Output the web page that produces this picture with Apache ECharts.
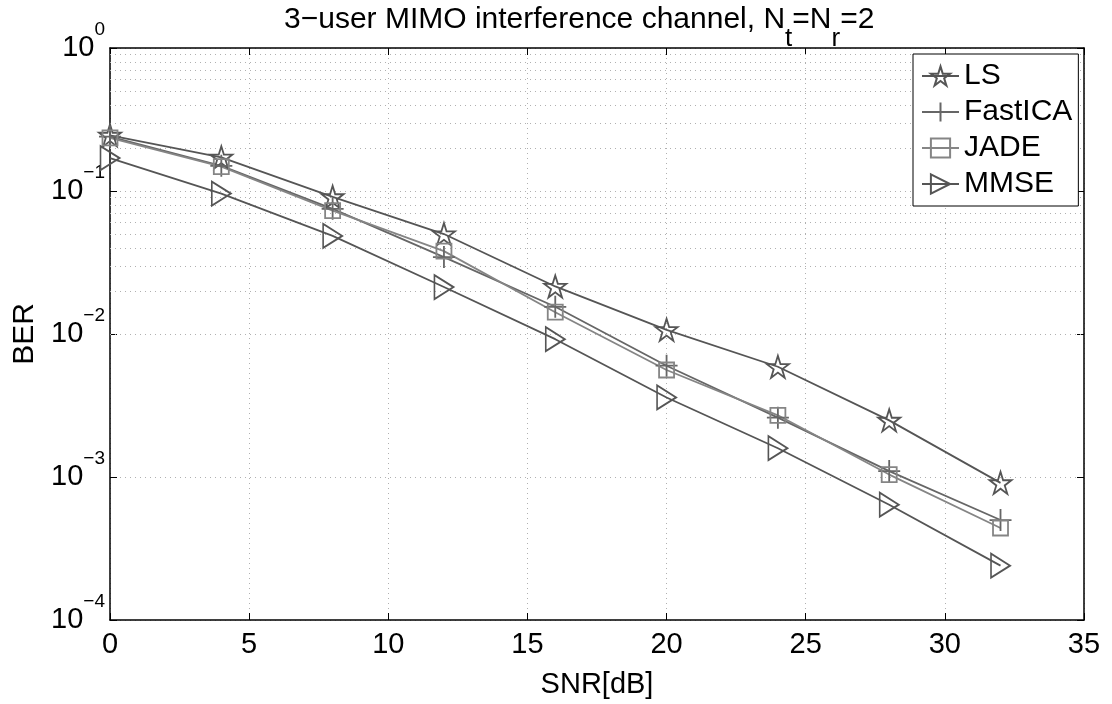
<!DOCTYPE html>
<html><head><meta charset="utf-8">
<script src="https://cdn.jsdelivr.net/npm/echarts@6/dist/echarts.min.js"></script>
<style>html,body{margin:0;padding:0;background:#fff}#c{width:1112px;height:704px}</style>
</head><body><div id="c"></div>
<script>
const snr = [0, 4, 8, 12, 16, 20, 24, 28, 32];
const berLS      = [0.245, 0.172, 0.091, 0.050, 0.0215, 0.0107, 0.0059, 0.00249, 0.00091];
const berFastICA = [0.240, 0.150, 0.075, 0.0345, 0.0155, 0.0060, 0.0026, 0.00110, 0.00050];
const berJADE    = [0.235, 0.148, 0.073, 0.0380, 0.0142, 0.0056, 0.0027, 0.00104, 0.00044];
const berMMSE    = [0.170, 0.096, 0.0485, 0.0213, 0.0092, 0.0036, 0.00159, 0.00064, 0.00024];
const seriesNames = ['LS', 'FastICA', 'JADE', 'MMSE'];
const xTicks = [0, 5, 10, 15, 20, 25, 30, 35];
const yDecades = [-4, -3, -2, -1, 0];

const FONT = 'Liberation Sans, Arial, sans-serif';
const starPath = 'path://M0,-1L0.2245,-0.309L0.951,-0.309L0.3633,0.118L0.5878,0.809L0,0.382L-0.5878,0.809L-0.3633,0.118L-0.951,-0.309L-0.2245,-0.309Z';
const plusPath = 'path://M0,-1L0,1M-1,0L1,0';
const triPath = 'path://M0,0L1,0.5L0,1Z';

const minorLines = [];
for (const d of yDecades.slice(0, -1)) {
  for (let m = 2; m <= 9; m++) minorLines.push({ yAxis: m * Math.pow(10, d) });
}

function mk(name, data, color, symbol, size, lw) {
  return {
    name, type: 'line', data: snr.map((x, i) => [x, data[i]]),
    symbol, symbolSize: size, showSymbol: true,
    lineStyle: { color, width: lw },
    itemStyle: { color: 'rgba(0,0,0,0)', borderColor: color, borderWidth: 1.8 },
    emphasis: { disabled: true }, z: 5
  };
}
const series = [
  mk('LS', berLS, '#555555', starPath, 22, 1.8),
  mk('FastICA', berFastICA, '#666666', plusPath, 22, 1.8),
  mk('JADE', berJADE, '#858585', 'rect', 15, 1.8),
  mk('MMSE', berMMSE, '#555555', triPath, [19, 24], 1.8)
];
series[3].markLine = {
  silent: true, symbol: ['none', 'none'], label: { show: false }, animation: false,
  lineStyle: { color: '#b0b0b0', type: [1, 4], width: 1 },
  emphasis: { disabled: true },
  data: minorLines
};

const supFmt = v => {
  const e = Math.round(Math.log10(v));
  return '{b|10}{s|' + (e < 0 ? '\u2212' + (-e) : e) + '}';
};

const chart = echarts.init(document.getElementById('c'), null, { renderer: 'canvas' });
chart.setOption({
  animation: false,
  backgroundColor: '#fff',
  title: {
    text: '{a|3\u2212user MIMO interference channel, N}{s|t}{a|=N}{s|r}{a|=2}',
    left: 279, top: 0,
    textStyle: {
      fontWeight: 'normal',
      rich: {
        a: { fontFamily: FONT, fontSize: 30, fontWeight: 'normal', color: '#000', verticalAlign: 'top', padding: [0, 0, 17, 0] },
        s: { fontFamily: FONT, fontSize: 26, fontWeight: 'normal', color: '#000', verticalAlign: 'bottom' }
      }
    }
  },
  legend: {
    data: seriesNames, orient: 'vertical', left: 913, top: 54,
    backgroundColor: '#fff', borderColor: '#000', borderWidth: 1,
    padding: [7, 6, 7, 8], itemGap: 6, itemWidth: 37, itemHeight: 24,
    textStyle: { fontFamily: FONT, fontSize: 30, color: '#000', lineHeight: 30 },
    z: 10
  },
  grid: { left: 110, top: 48, right: 28, bottom: 77, containLabel: false },
  xAxis: [{
    type: 'value', min: 0, max: 35, interval: 5,
    name: 'SNR[dB]', nameLocation: 'middle', nameGap: 50,
    nameTextStyle: { fontFamily: FONT, fontSize: 29, color: '#000' },
    axisLine: { show: true, onZero: false, lineStyle: { color: '#000', width: 1.5 } },
    axisTick: { show: true, inside: true, length: 7, lineStyle: { color: '#000' } },
    axisLabel: { fontFamily: FONT, fontSize: 29, color: '#000', margin: 10 },
    splitLine: { show: true, lineStyle: { color: '#b0b0b0', type: [1, 4], width: 1 } }
  }, {
    type: 'value', min: 0, max: 35, interval: 5, position: 'top',
    axisLine: { show: true, onZero: false, lineStyle: { color: '#000', width: 1.5 } },
    axisTick: { show: true, inside: true, length: 7, lineStyle: { color: '#000' } },
    axisLabel: { show: false }, splitLine: { show: false }
  }],
  yAxis: [{
    type: 'log', logBase: 10, min: 1e-4, max: 1,
    name: 'BER', nameLocation: 'middle', nameGap: 68, nameRotate: 90,
    nameTextStyle: { fontFamily: FONT, fontSize: 30, color: '#000' },
    axisLine: { show: true, onZero: false, lineStyle: { color: '#000', width: 1.5 } },
    axisTick: { show: true, inside: true, length: 7, lineStyle: { color: '#000' } },
    axisLabel: {
      formatter: supFmt, margin: 5,
      rich: {
        b: { fontFamily: FONT, fontSize: 29, color: '#000', verticalAlign: 'bottom', padding: [13, 0, 13, 0] },
        s: { fontFamily: FONT, fontSize: 19, color: '#000', verticalAlign: 'top' }
      }
    },
    splitLine: { show: true, lineStyle: { color: '#b0b0b0', type: [1, 4], width: 1 } }
  }, {
    type: 'log', logBase: 10, min: 1e-4, max: 1, position: 'right',
    axisLine: { show: true, onZero: false, lineStyle: { color: '#000', width: 1.5 } },
    axisTick: { show: true, inside: true, length: 7, lineStyle: { color: '#000' } },
    axisLabel: { show: false }, splitLine: { show: false }
  }],
  series
});
</script></body></html>
